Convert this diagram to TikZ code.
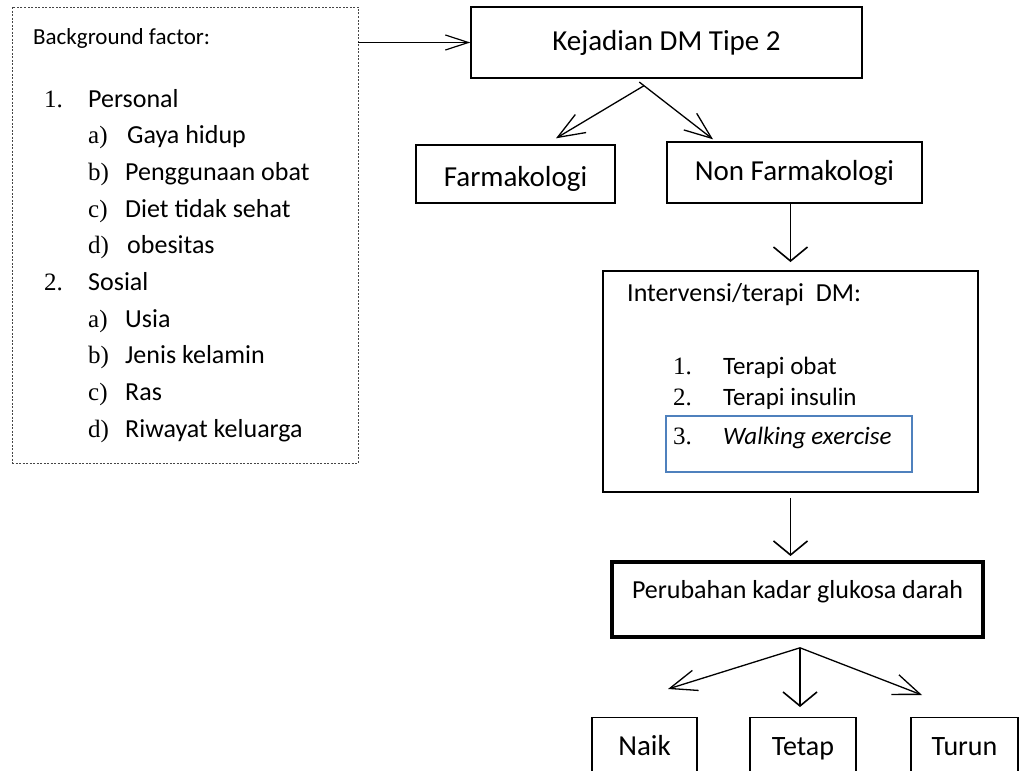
\documentclass[tikz,border=0pt]{standalone}
\usepackage{fontspec}
\setmainfont{Carlito}
\newfontfamily\numfont{Liberation Serif}
\usetikzlibrary{arrows.meta, calc}

\definecolor{framegray}{RGB}{70,70,70}
\definecolor{wordblue}{RGB}{79,129,189}

\begin{document}
\begin{tikzpicture}[
    x=1pt, y=-1pt,
    box/.style={draw, line width=1.4pt, inner sep=0pt},
    bgframe/.style={draw=framegray, line width=0.9pt,
        dash pattern=on 2pt off 1.5pt, inner sep=0pt},
    itemtxt/.style={anchor=base west, inner sep=0pt,
        font=\fontsize{26}{31}\selectfont},
    numtxt/.style={anchor=base west, inner sep=0pt,
        font=\numfont\fontsize{25}{30}\selectfont},
    harr/.style={-{Straight Barb[length=23pt,width=15pt]}, line width=1.2pt},
    varr/.style={-{Straight Barb[length=14pt,width=34pt]}, line width=1.6pt},
    darr/.style={-{Straight Barb[length=27pt,width=21pt]}, line width=1.3pt}
]
\useasboundingbox (0,0) rectangle (1020,771);
\clip (0,0) rectangle (1020,771);

% Background factor list
\node[bgframe, minimum width=346pt, minimum height=456pt] (bgbox) at (185,235) {};
\node[itemtxt, font=\fontsize{23}{28}\selectfont] (bgtitle) at (33,44) {Background factor:};
\node[numtxt] (n1) at (44,107) {1.};
\node[itemtxt] (personal) at (88,107) {Personal};
\node[numtxt] (n1a) at (88,143) {a)};
\node[itemtxt] (gaya) at (127,143) {Gaya hidup};
\node[numtxt] (n1b) at (88,180) {b)};
\node[itemtxt] (obat) at (125,180) {Penggunaan obat};
\node[numtxt] (n1c) at (88,217) {c)};
\node[itemtxt] (diet) at (125,217) {Diet tidak sehat};
\node[numtxt] (n1d) at (88,253) {d)};
\node[itemtxt] (obes) at (127,253) {obesitas};
\node[numtxt] (n2) at (44,290) {2.};
\node[itemtxt] (sosial) at (88,290) {Sosial};
\node[numtxt] (n2a) at (88,327) {a)};
\node[itemtxt] (usia) at (125,327) {Usia};
\node[numtxt] (n2b) at (88,363) {b)};
\node[itemtxt] (jenis) at (125,363) {Jenis kelamin};
\node[numtxt] (n2c) at (88,400) {c)};
\node[itemtxt] (ras) at (125,400) {Ras};
\node[numtxt] (n2d) at (88,437) {d)};
\node[itemtxt] (riwayat) at (125,437) {Riwayat keluarga};

% Main flow
\node[box, minimum width=391pt, minimum height=71pt,
      font=\fontsize{29}{34}\selectfont] (kejadian) at (666.5,42.5) {Kejadian DM Tipe 2};
\node[box, minimum width=199pt, minimum height=58pt, text height=30pt, text depth=6pt,
      font=\fontsize{29}{34}\selectfont] (farm) at (515.5,174) {Farmakologi};
\node[box, minimum width=255pt, minimum height=61pt,
      font=\fontsize{29}{34}\selectfont] (nonfarm) at (794.5,172.5) {Non Farmakologi};

% Intervensi box
\node[box, line width=1.9pt, minimum width=375pt, minimum height=221pt] (interv) at (790.5,381.5) {};
\node[itemtxt, font=\fontsize{26}{31}\selectfont] (intervtitle) at (627,301) {Intervensi/terapi~~DM:};
\node[numtxt] (t1) at (673,374) {1.};
\node[itemtxt, font=\fontsize{25}{30}\selectfont] (terapiobat) at (723,374) {Terapi obat};
\node[numtxt] (t2) at (673,405) {2.};
\node[itemtxt, font=\fontsize{25}{30}\selectfont] (terapiins) at (723,405) {Terapi insulin};
\node[draw=wordblue, line width=1.3pt, inner sep=0pt,
      minimum width=246pt, minimum height=56pt] (walkbox) at (789,444) {};
\node[numtxt] (t3) at (673,444) {3.};
\node[itemtxt, font=\fontsize{25}{30}\selectfont] (walking) at (723,444) {\itshape Walking exercise};

% Outcome
\node[box, line width=3.8pt, anchor=north, minimum width=371pt,
      text height=37pt, text depth=38pt,
      font=\fontsize{26}{31}\selectfont] (perub) at (797.5,560) {Perubahan kadar glukosa darah};
\node[box, anchor=north, minimum width=105pt, text height=38pt, text depth=50pt,
      font=\fontsize{29}{34}\selectfont] (naik) at (644.5,717) {Naik};
\node[box, anchor=north, minimum width=106pt, text height=38pt, text depth=50pt,
      font=\fontsize{28}{33}\selectfont] (tetap) at (803,717) {Tetap};
\node[box, anchor=north, minimum width=107pt, text height=38pt, text depth=50pt,
      font=\fontsize{28}{33}\selectfont] (turun) at (964.5,717) {Turun};

% Connectors
\coordinate (split1) at ($(kejadian.south)+(-22.5,7)$);
\coordinate (split2) at ($(perub.south)+(2.5,9)$);
\draw[harr] (bgbox.east |- kejadian.west) -- (kejadian.west);
\draw[darr] (split1) -- ($(farm.north)+(40.5,-6)$);
\draw[darr, shorten <=-6pt] (split1) -- ($(nonfarm.north)+(-81.5,-2)$);
\draw[varr, shorten >=8pt] (interv.north |- nonfarm.south) -- (interv.north);
\draw[varr, shorten <=5pt, shorten >=4pt] (interv.south) -- (interv.south |- perub.north);
\draw[darr] (split2) -- ($(naik.north)+(23.5,-28)$);
\draw[varr] (split2) -- ($(tetap.north)+(-3,-10)$);
\draw[darr] (split2) -- ($(turun.north)+(-42.5,-22)$);

\end{tikzpicture}
\end{document}
